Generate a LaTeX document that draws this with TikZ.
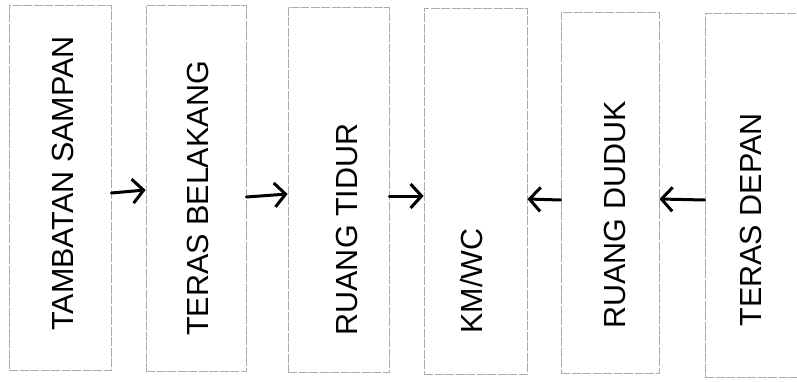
\documentclass[tikz,border=0pt]{standalone}
\usepackage{fontspec}
\setmainfont{Liberation Sans}
\usetikzlibrary{arrows.meta}
\tikzset{
  box/.style={draw=gray!65, line width=0.8pt, dash pattern=on 9pt off 1.5pt, inner sep=0pt, fill=none},
  lbl/.style={rotate=90, font=\fontsize{30.5}{32}\selectfont, inner sep=0pt, text height=22pt, text depth=0pt},
  arr/.style={-{Straight Barb[length=11pt,width=24pt,line width=3pt]}, line width=3pt, black, line cap=round}
}
\begin{document}
\begin{tikzpicture}[x=1pt,y=-1pt]
\useasboundingbox (0,0) rectangle (797,382);
\clip (0,0) rectangle (797,382);
% boxes
\node[box, minimum width=102pt, minimum height=365pt] (b1) at (60,187.5) {};
\node[box, minimum width=100pt, minimum height=366pt] (b2) at (196,188) {};
\node[box, minimum width=101pt, minimum height=365pt] (b3) at (338.5,189.5) {};
\node[box, minimum width=103pt, minimum height=366pt] (b4) at (475.5,191) {};
\node[box, minimum width=98pt, minimum height=361pt] (b5) at (610,192.5) {};
\node[box, minimum width=110pt, minimum height=364pt] (b6) at (760,195) {};
% labels
\node[lbl] (t1) at (62.5,183.5) {TAMBATAN SAMPAN};
\node[lbl] (t2) at (197.5,198.5) {TERAS BELAKANG};
\node[lbl] (t3) at (346.5,229.5) {RUANG TIDUR};
\node[lbl] (t4) at (471.5,281) {KM/WC};
\node[lbl] (t5) at (614.5,215) {RUANG DUDUK};
\node[lbl] (t6) at (750,220) {TERAS DEPAN};
% arrows
\draw[arr] (b1.east |- 0,193) -- (b2.west |- 0,190);
\draw[arr] (b2.east |- 0,197) -- (b3.west |- 0,194);
\draw[arr] (b3.east |- 0,196) -- (b4.west |- 0,196);
\draw[arr] (b5.west |- 0,200) -- (b4.east |- 0,199);
\draw[arr] (b6.west |- 0,200) -- (b5.east |- 0,199);
\end{tikzpicture}
\end{document}
